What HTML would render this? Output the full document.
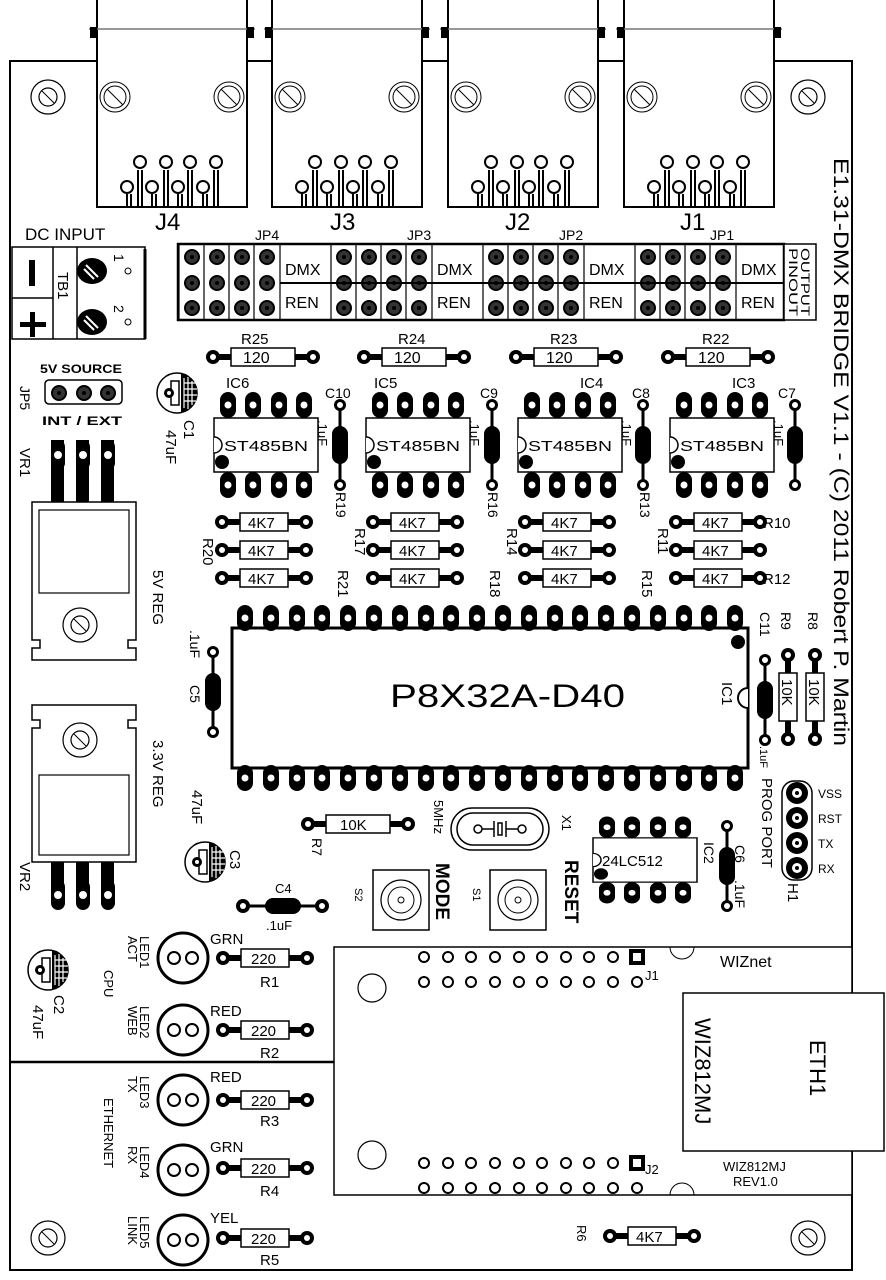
<!DOCTYPE html>
<html><head><meta charset="utf-8"><style>
html,body{margin:0;padding:0;background:#fff;}
svg{display:block;}
text{font-family:"Liberation Sans",sans-serif;fill:#000;}
</style></head><body>
<svg width="886" height="1280" viewBox="0 0 886 1280" xmlns="http://www.w3.org/2000/svg">
<defs>
 <g id="jack">
  <rect x="0" y="-2" width="150" height="209" fill="#fff" stroke="#000" stroke-width="2"/>
  <line x1="-8" y1="29" x2="158" y2="29" stroke="#777" stroke-width="1.5"/>
  <rect x="-7" y="27" width="7" height="11" fill="#000"/><rect x="150" y="27" width="7" height="11" fill="#000"/>
  <circle cx="18" cy="97" r="15" fill="none" stroke="#000" stroke-width="1"/><circle cx="18" cy="97" r="11" fill="none" stroke="#000" stroke-width="1"/><line x1="10" y1="89" x2="26" y2="105" stroke="#000"/>
  <circle cx="132" cy="97" r="15" fill="none" stroke="#000" stroke-width="1"/><circle cx="132" cy="97" r="11" fill="none" stroke="#000" stroke-width="1"/><line x1="124" y1="89" x2="140" y2="105" stroke="#000"/>
  <g fill="none" stroke="#000" stroke-width="2">
   <path d="M30 207V194M34 207V194M55 207V194M59 207V194M81 207V194M85 207V194M106 207V194M110 207V194"/>
   <path d="M41 207V170M45 207V170M67 207V170M71 207V170M91 207V170M95 207V170M117 207V170M121 207V170"/>
   <circle cx="43" cy="162" r="6" fill="#fff"/><circle cx="69" cy="162" r="6" fill="#fff"/><circle cx="93" cy="162" r="6" fill="#fff"/><circle cx="119" cy="162" r="6" fill="#fff"/>
   <circle cx="30" cy="187" r="6" fill="#fff"/><circle cx="55" cy="187" r="6" fill="#fff"/><circle cx="81" cy="187" r="6" fill="#fff"/><circle cx="106" cy="187" r="6" fill="#fff"/>
  </g>
 </g>
 <g id="mh"><circle r="17" fill="none" stroke="#000" stroke-width="1.2"/><circle r="9" fill="none" stroke="#000" stroke-width="1.2"/><line x1="-6" y1="-6" x2="6" y2="6" stroke="#000"/></g>
 <g id="pad"><circle r="7" fill="#000"/><circle r="3" fill="#fff"/></g>
 <g id="hp"><circle r="8" fill="#000"/><circle r="6" fill="#333"/><circle r="2" fill="#000"/></g>
 <g id="pinv"><rect x="-8" y="-13" width="16" height="26" rx="8" fill="#000"/><circle r="3.5" fill="#fff"/></g>
 <g id="r120">
  <line x1="-50" y1="0" x2="50" y2="0" stroke="#000" stroke-width="6"/>
  <use href="#pad" x="-50"/><use href="#pad" x="50"/>
  <rect x="-32" y="-9" width="64" height="18" fill="#fff" stroke="#000" stroke-width="1.5"/>
 </g>
 <g id="r47">
  <line x1="-42" y1="0" x2="42" y2="0" stroke="#000" stroke-width="6"/>
  <use href="#pad" x="-42"/><use href="#pad" x="42"/>
  <rect x="-24" y="-9" width="48" height="18" fill="#fff" stroke="#000" stroke-width="1.5"/>
 </g>
 <g id="capv">
  <line x1="0" y1="-40" x2="0" y2="40" stroke="#000" stroke-width="3"/>
  <circle cy="-40" r="6" fill="#000"/><circle cy="-40" r="3" fill="#fff"/>
  <circle cy="40" r="6" fill="#000"/><circle cy="40" r="3" fill="#fff"/>
  <rect x="-8" y="-19" width="16" height="38" rx="8" fill="#000"/>
 </g>
 <g id="ic8">
  <rect x="-52" y="-27" width="104" height="54" fill="#fff" stroke="#000" stroke-width="1.5"/>
  <path d="M-52 -8 A8 8 0 0 1 -52 8" fill="#fff" stroke="#000" stroke-width="1.5"/>
  <circle cx="-44" cy="17" r="7" fill="#000"/>
  <use href="#pinv" x="-38" y="-40"/><use href="#pinv" x="-13" y="-40"/><use href="#pinv" x="13" y="-40"/><use href="#pinv" x="38" y="-40"/>
  <use href="#pinv" x="-38" y="40"/><use href="#pinv" x="-13" y="40"/><use href="#pinv" x="13" y="40"/><use href="#pinv" x="38" y="40"/>
 </g>
 <g id="jpg">
  <use href="#hp" x="0" y="0"/><use href="#hp" x="25" y="0"/><use href="#hp" x="50" y="0"/><use href="#hp" x="75" y="0"/>
  <use href="#hp" x="0" y="26"/><use href="#hp" x="25" y="26"/><use href="#hp" x="50" y="26"/><use href="#hp" x="75" y="26"/>
  <use href="#hp" x="0" y="51"/><use href="#hp" x="25" y="51"/><use href="#hp" x="50" y="51"/><use href="#hp" x="75" y="51"/>
  <path d="M-13 -13V64M12 -13V64M37 -13V64M62 -13V64M88 -13V64" stroke="#000" stroke-width="1.2" fill="none"/>
 </g>
 <g id="led"><circle r="25" fill="#fff" stroke="#000" stroke-width="3"/><circle cx="-9" r="6" fill="none" stroke="#000" stroke-width="2"/><circle cx="9" r="6" fill="none" stroke="#000" stroke-width="2"/></g>
 <g id="ecap"><circle r="20" fill="#fff" stroke="#000" stroke-width="1.5"/><path d="M4 -19.5A20 20 0 0 1 4 19.5Z" fill="#000"/><path d="M7 -15V15M11 -16V16M15 -12V12M7 -10H19M7 -4H20M7 2H20M7 8H19" stroke="#fff" stroke-width="1.2"/><rect x="-6" y="-12" width="8" height="24" fill="none" stroke="#000" stroke-width="1.5"/><circle cx="-8" cy="0" r="5" fill="#000"/><circle cx="-8" r="2" fill="#fff"/></g>
</defs>

<rect x="10" y="61" width="842" height="1209" fill="none" stroke="#000" stroke-width="2"/>

<use href="#jack" x="97" y="0"/><use href="#jack" x="272" y="0"/><use href="#jack" x="448" y="0"/><use href="#jack" x="624" y="0"/>
<text x="155" y="230" font-size="24">J4</text><text x="330" y="230" font-size="24">J3</text><text x="505" y="230" font-size="24">J2</text><text x="680" y="230" font-size="24">J1</text>

<use href="#mh" x="48" y="97"/><use href="#mh" x="808" y="97"/><use href="#mh" x="48" y="1238"/><use href="#mh" x="808" y="1238"/>

<text transform="translate(834,158) rotate(90)" font-size="21" textLength="588" lengthAdjust="spacingAndGlyphs">E1.31-DMX BRIDGE V1.1 - (C) 2011 Robert P. Martin</text>

<rect x="178" y="244" width="606" height="76" fill="#fff" stroke="#000" stroke-width="2.5"/>
<rect x="784" y="244" width="32" height="76" fill="#fff" stroke="#000" stroke-width="1.5"/>
<text transform="translate(801,248) rotate(90)" font-size="12" textLength="68" lengthAdjust="spacingAndGlyphs">OUTPUT</text>
<text transform="translate(789,248) rotate(90)" font-size="12" textLength="68" lengthAdjust="spacingAndGlyphs">PINOUT</text>
<g>
 <use href="#jpg" x="192" y="257"/><use href="#jpg" x="344" y="257"/><use href="#jpg" x="496" y="257"/><use href="#jpg" x="648" y="257"/>
 <line x1="280" y1="283" x2="784" y2="283" stroke="#000" stroke-width="2"/>
 <text x="285" y="275" font-size="16">DMX</text><text x="285" y="308" font-size="16">REN</text>
 <text x="437" y="275" font-size="16">DMX</text><text x="437" y="308" font-size="16">REN</text>
 <text x="589" y="275" font-size="16">DMX</text><text x="589" y="308" font-size="16">REN</text>
 <text x="741" y="275" font-size="16">DMX</text><text x="741" y="308" font-size="16">REN</text>
</g>
<text x="255" y="240" font-size="14">JP4</text><text x="407" y="240" font-size="14">JP3</text><text x="559" y="240" font-size="14">JP2</text><text x="710" y="240" font-size="14">JP1</text>

<text x="25" y="240" font-size="17">DC INPUT</text>
<rect x="12" y="247" width="133" height="92" fill="#fff" stroke="#000" stroke-width="1.5"/>
<line x1="145" y1="249" x2="145" y2="339" stroke="#000" stroke-width="3"/>
<line x1="12" y1="298" x2="53" y2="298" stroke="#000" stroke-width="1.5"/>
<line x1="53" y1="247" x2="53" y2="339" stroke="#000" stroke-width="1.5"/>
<line x1="77" y1="247" x2="77" y2="339" stroke="#000" stroke-width="1.5"/>
<rect x="29" y="260" width="6" height="26" fill="#000"/>
<rect x="20" y="322" width="26" height="5" fill="#000"/><rect x="30" y="312" width="5" height="25" fill="#000"/>
<text transform="translate(58,272) rotate(90)" font-size="15">TB1</text>
<ellipse cx="92" cy="271" rx="15" ry="13" fill="#000"/><line x1="86" y1="265" x2="98" y2="277" stroke="#fff" stroke-width="2"/><line x1="84" y1="269" x2="94" y2="279" stroke="#fff" stroke-width="2"/>
<ellipse cx="92" cy="322" rx="15" ry="13" fill="#000"/><line x1="86" y1="316" x2="98" y2="328" stroke="#fff" stroke-width="2"/><line x1="84" y1="320" x2="94" y2="330" stroke="#fff" stroke-width="2"/>
<text transform="translate(114,254) rotate(90)" font-size="14">1</text><circle cx="128" cy="271" r="3" fill="none" stroke="#000"/>
<text transform="translate(114,305) rotate(90)" font-size="14">2</text><circle cx="128" cy="322" r="3" fill="none" stroke="#000"/>

<text x="40" y="373" font-size="12" font-weight="bold" textLength="82" lengthAdjust="spacingAndGlyphs">5V SOURCE</text>
<rect x="45" y="380" width="77" height="24" rx="4" fill="#fff" stroke="#000" stroke-width="1.5"/>
<use href="#hp" x="59" y="393"/><use href="#hp" x="84" y="393"/><use href="#hp" x="108" y="393"/>
<text x="42" y="425" font-size="12" font-weight="bold" textLength="80" lengthAdjust="spacingAndGlyphs">INT / EXT</text>
<text transform="translate(20,386) rotate(90)" font-size="14">JP5</text>

<text transform="translate(20,448) rotate(90)" font-size="15">VR1</text>
<g fill="#000"><rect x="51" y="440" width="13" height="62"/><rect x="76" y="440" width="13" height="62"/><rect x="101" y="440" width="13" height="62"/>
<rect x="51" y="440" width="14" height="30" rx="7"/><rect x="76" y="440" width="14" height="30" rx="7"/><rect x="101" y="440" width="14" height="30" rx="7"/></g>
<circle cx="58" cy="455" r="4" fill="#fff"/><circle cx="83" cy="455" r="4" fill="#fff"/><circle cx="108" cy="455" r="4" fill="#fff"/>
<path d="M32 502H136V640H128V648H136V660H32V648H40V640H32Z" fill="#fff" stroke="#000" stroke-width="1.5"/>
<rect x="39" y="510" width="90" height="83" fill="none" stroke="#000" stroke-width="1.2"/>
<use href="#mh" x="80" y="625"/>
<text transform="translate(153,570) rotate(90)" font-size="15">5V REG</text>

<path d="M32 705H136V720H128V728H136V862H32V728H40V720H32Z" fill="#fff" stroke="#000" stroke-width="1.5"/>
<rect x="39" y="775" width="90" height="80" fill="none" stroke="#000" stroke-width="1.2"/>
<use href="#mh" x="80" y="740"/>
<g fill="#000"><rect x="51" y="862" width="13" height="40"/><rect x="76" y="862" width="13" height="40"/><rect x="101" y="862" width="13" height="40"/>
<rect x="51" y="880" width="14" height="30" rx="7"/><rect x="76" y="880" width="14" height="30" rx="7"/><rect x="101" y="880" width="14" height="30" rx="7"/></g>
<circle cx="58" cy="895" r="4" fill="#fff"/><circle cx="83" cy="895" r="4" fill="#fff"/><circle cx="108" cy="895" r="4" fill="#fff"/>
<text transform="translate(20,862) rotate(90)" font-size="15">VR2</text>
<text transform="translate(153,740) rotate(90)" font-size="15">3.3V REG</text>

<use href="#ecap" x="177" y="393"/>
<text transform="translate(184,420) rotate(90)" font-size="15">C1</text><text transform="translate(166,430) rotate(90)" font-size="15">47uF</text>
<use href="#ecap" x="205" y="862"/>
<text transform="translate(230,850) rotate(90)" font-size="15">C3</text><text transform="translate(192,790) rotate(90)" font-size="15">47uF</text>
<use href="#ecap" x="48" y="970"/>
<text transform="translate(54,995) rotate(90)" font-size="15">C2</text><text transform="translate(33,1005) rotate(90)" font-size="15">47uF</text>

<use href="#r120" x="263" y="357"/><text x="243" y="363" font-size="16">120</text><text x="241" y="344" font-size="15">R25</text>
<use href="#r120" x="414" y="357"/><text x="394" y="363" font-size="16">120</text><text x="398" y="344" font-size="15">R24</text>
<use href="#r120" x="566" y="357"/><text x="546" y="363" font-size="16">120</text><text x="550" y="344" font-size="15">R23</text>
<use href="#r120" x="718" y="357"/><text x="698" y="363" font-size="16">120</text><text x="702" y="344" font-size="15">R22</text>

<use href="#ic8" x="266" y="445"/><text x="224" y="451" font-size="15" textLength="84" lengthAdjust="spacingAndGlyphs">ST485BN</text><text x="226" y="388" font-size="15">IC6</text>
<use href="#ic8" x="418" y="445"/><text x="376" y="451" font-size="15" textLength="84" lengthAdjust="spacingAndGlyphs">ST485BN</text><text x="374" y="388" font-size="15">IC5</text>
<use href="#ic8" x="570" y="445"/><text x="528" y="451" font-size="15" textLength="84" lengthAdjust="spacingAndGlyphs">ST485BN</text><text x="580" y="388" font-size="15">IC4</text>
<use href="#ic8" x="722" y="445"/><text x="680" y="451" font-size="15" textLength="84" lengthAdjust="spacingAndGlyphs">ST485BN</text><text x="732" y="388" font-size="15">IC3</text>
<use href="#capv" x="340" y="445"/><text x="325" y="398" font-size="14">C10</text>
<use href="#capv" x="492" y="445"/><text x="480" y="398" font-size="14">C9</text>
<use href="#capv" x="643" y="445"/><text x="632" y="398" font-size="14">C8</text>
<use href="#capv" x="795" y="445"/><text x="778" y="398" font-size="14">C7</text>
<g font-size="13"><text transform="translate(318,420) rotate(90)">.1uF</text><text transform="translate(470,420) rotate(90)">.1uF</text><text transform="translate(622,420) rotate(90)">.1uF</text><text transform="translate(774,420) rotate(90)">.1uF</text></g>
<g font-size="14"><text transform="translate(336,492) rotate(90)">R19</text><text transform="translate(488,492) rotate(90)">R16</text><text transform="translate(640,492) rotate(90)">R13</text></g>

<g font-size="15">
<use href="#r47" x="264" y="522"/><text x="248" y="528">4K7</text>
<use href="#r47" x="264" y="550"/><text x="248" y="556">4K7</text>
<use href="#r47" x="264" y="578"/><text x="248" y="584">4K7</text>
<use href="#r47" x="415" y="522"/><text x="399" y="528">4K7</text>
<use href="#r47" x="415" y="550"/><text x="399" y="556">4K7</text>
<use href="#r47" x="415" y="578"/><text x="399" y="584">4K7</text>
<use href="#r47" x="567" y="522"/><text x="551" y="528">4K7</text>
<use href="#r47" x="567" y="550"/><text x="551" y="556">4K7</text>
<use href="#r47" x="567" y="578"/><text x="551" y="584">4K7</text>
<use href="#r47" x="718" y="522"/><text x="702" y="528">4K7</text>
<use href="#r47" x="718" y="550"/><text x="702" y="556">4K7</text>
<use href="#r47" x="718" y="578"/><text x="702" y="584">4K7</text>
<text x="763" y="528">R10</text><text x="763" y="584">R12</text>
<text transform="translate(203,538) rotate(90)">R20</text>
<text transform="translate(338,570) rotate(90)">R21</text>
<text transform="translate(355,528) rotate(90)">R17</text>
<text transform="translate(490,570) rotate(90)">R18</text>
<text transform="translate(507,528) rotate(90)">R14</text>
<text transform="translate(642,570) rotate(90)">R15</text>
<text transform="translate(658,528) rotate(90)">R11</text>
</g>

<rect x="232" y="628" width="516" height="140" fill="#fff" stroke="#000" stroke-width="3"/>
<path d="M748 688A10 10 0 0 0 748 708" fill="#fff" stroke="#000" stroke-width="2"/>
<circle cx="738" cy="642" r="7" fill="#000"/>
<g id="ptop">
<use href="#pinv" x="245" y="618"/><use href="#pinv" x="271" y="618"/><use href="#pinv" x="297" y="618"/><use href="#pinv" x="322" y="618"/><use href="#pinv" x="348" y="618"/><use href="#pinv" x="374" y="618"/><use href="#pinv" x="400" y="618"/><use href="#pinv" x="426" y="618"/><use href="#pinv" x="451" y="618"/><use href="#pinv" x="477" y="618"/>
<use href="#pinv" x="503" y="618"/><use href="#pinv" x="529" y="618"/><use href="#pinv" x="555" y="618"/><use href="#pinv" x="580" y="618"/><use href="#pinv" x="606" y="618"/><use href="#pinv" x="632" y="618"/><use href="#pinv" x="658" y="618"/><use href="#pinv" x="684" y="618"/><use href="#pinv" x="709" y="618"/><use href="#pinv" x="735" y="618"/>
</g>
<use href="#ptop" y="160"/>
<text x="390" y="707" font-size="32" textLength="235" lengthAdjust="spacingAndGlyphs">P8X32A-D40</text>
<text transform="translate(722,682) rotate(90)" font-size="15">IC1</text>
<use href="#capv" x="213" y="692"/>
<text transform="translate(190,630) rotate(90)" font-size="14">.1uF</text><text transform="translate(190,685) rotate(90)" font-size="14">C5</text>
<use href="#capv" x="765" y="700"/>
<text transform="translate(760,612) rotate(90)" font-size="14">C11</text><text transform="translate(760,746) rotate(90)" font-size="11">.1uF</text>
<g transform="translate(788,697) rotate(90)"><use href="#r47"/><text x="-18" y="6" font-size="15">10K</text></g>
<g transform="translate(815,697) rotate(90)"><use href="#r47"/><text x="-18" y="6" font-size="15">10K</text></g>
<text transform="translate(781,612) rotate(90)" font-size="14">R9</text><text transform="translate(808,612) rotate(90)" font-size="14">R8</text>

<g><rect x="782" y="781" width="30" height="99" rx="12" fill="#fff" stroke="#000" stroke-width="1.5"/>
<circle cx="797" cy="793" r="11" fill="#000"/><circle cx="797" cy="793" r="5" fill="#fff"/><circle cx="797" cy="793" r="2" fill="#000"/>
<circle cx="797" cy="818" r="11" fill="#000"/><circle cx="797" cy="818" r="5" fill="#fff"/><circle cx="797" cy="818" r="2" fill="#000"/>
<circle cx="797" cy="843" r="11" fill="#000"/><circle cx="797" cy="843" r="5" fill="#fff"/><circle cx="797" cy="843" r="2" fill="#000"/>
<circle cx="797" cy="868" r="11" fill="#000"/><circle cx="797" cy="868" r="5" fill="#fff"/><circle cx="797" cy="868" r="2" fill="#000"/></g>
<g font-size="12"><text x="818" y="798">VSS</text><text x="818" y="823">RST</text><text x="818" y="848">TX</text><text x="818" y="873">RX</text></g>
<text transform="translate(762,778) rotate(90)" font-size="15">PROG PORT</text>
<text transform="translate(788,883) rotate(90)" font-size="15">H1</text>

<use href="#r120" x="358" y="824"/><text x="340" y="830" font-size="15">10K</text>
<text transform="translate(312,838) rotate(90)" font-size="14">R7</text>
<text transform="translate(434,800) rotate(90)" font-size="13">5MHz</text>
<rect x="451" y="808" width="98" height="42" rx="21" fill="#fff" stroke="#000" stroke-width="1.5"/>
<rect x="457" y="813" width="86" height="32" rx="16" fill="none" stroke="#000" stroke-width="1.5"/>
<circle cx="478" cy="829" r="4" fill="none" stroke="#000" stroke-width="1.5"/><circle cx="522" cy="829" r="4" fill="none" stroke="#000" stroke-width="1.5"/>
<path d="M482 829H494M506 829H518M494 821V837M506 821V837M498 823H502V835H498Z" stroke="#000" stroke-width="1.5" fill="none"/>
<text transform="translate(562,815) rotate(90)" font-size="13">X1</text>

<g transform="translate(645,860)"><use href="#ic8" transform="scale(1,0.82)"/></g>
<text x="602" y="866" font-size="15">24LC512</text>
<text transform="translate(704,842) rotate(90)" font-size="14">IC2</text>
<use href="#capv" x="727" y="866"/>
<text transform="translate(735,845) rotate(90)" font-size="14">C6</text><text transform="translate(735,880) rotate(90)" font-size="14">.1uF</text>

<line x1="243" y1="906" x2="322" y2="906" stroke="#000" stroke-width="3"/>
<use href="#pad" x="243" y="906"/><use href="#pad" x="322" y="906"/>
<rect x="265" y="898" width="36" height="16" rx="8" fill="#000"/>
<text x="275" y="893" font-size="13">C4</text><text x="266" y="930" font-size="13">.1uF</text>

<rect x="373" y="870" width="56" height="60" fill="#fff" stroke="#000" stroke-width="1.5"/>
<circle cx="401" cy="900" r="20" fill="none" stroke="#000" stroke-width="1.2"/><circle cx="401" cy="900" r="13" fill="none" stroke="#000"/><circle cx="401" cy="900" r="3" fill="none" stroke="#000"/>
<text transform="translate(355,888) rotate(90)" font-size="11">S2</text>
<text transform="translate(436,863) rotate(90)" font-size="19" font-weight="bold">MODE</text>
<rect x="490" y="870" width="56" height="60" fill="#fff" stroke="#000" stroke-width="1.5"/>
<circle cx="518" cy="900" r="20" fill="none" stroke="#000" stroke-width="1.2"/><circle cx="518" cy="900" r="13" fill="none" stroke="#000"/><circle cx="518" cy="900" r="3" fill="none" stroke="#000"/>
<text transform="translate(473,888) rotate(90)" font-size="11">S1</text>
<text transform="translate(565,860) rotate(90)" font-size="19" font-weight="bold">RESET</text>

<line x1="10" y1="1062" x2="334" y2="1062" stroke="#000" stroke-width="2.5"/>
<use href="#led" x="183" y="958"/><use href="#led" x="183" y="1030"/><use href="#led" x="183" y="1100"/><use href="#led" x="183" y="1170"/><use href="#led" x="183" y="1240"/>
<g font-size="15">
<use href="#r47" x="265" y="958"/><text x="251" y="964">220</text><text x="260" y="987">R1</text><text x="210" y="944">GRN</text>
<use href="#r47" x="265" y="1030"/><text x="251" y="1036">220</text><text x="260" y="1058">R2</text><text x="210" y="1016">RED</text>
<use href="#r47" x="265" y="1100"/><text x="251" y="1106">220</text><text x="260" y="1126">R3</text><text x="210" y="1082">RED</text>
<use href="#r47" x="265" y="1168"/><text x="251" y="1174">220</text><text x="260" y="1196">R4</text><text x="210" y="1152">GRN</text>
<use href="#r47" x="265" y="1238"/><text x="251" y="1244">220</text><text x="260" y="1265">R5</text><text x="210" y="1223">YEL</text>
</g>
<g font-size="13">
<text transform="translate(140,936) rotate(90)">LED1</text><text transform="translate(128,936) rotate(90)">ACT</text>
<text transform="translate(140,1006) rotate(90)">LED2</text><text transform="translate(128,1006) rotate(90)">WEB</text>
<text transform="translate(140,1076) rotate(90)">LED3</text><text transform="translate(128,1076) rotate(90)">TX</text>
<text transform="translate(140,1146) rotate(90)">LED4</text><text transform="translate(128,1146) rotate(90)">RX</text>
<text transform="translate(140,1216) rotate(90)">LED5</text><text transform="translate(128,1216) rotate(90)">LINK</text>
<text transform="translate(104,970) rotate(90)">CPU</text>
<text transform="translate(104,1098) rotate(90)">ETHERNET</text>
</g>

<rect x="334" y="947" width="518" height="248" fill="#fff" stroke="#000" stroke-width="1.5"/>
<circle cx="372" cy="988" r="14" fill="none" stroke="#000" stroke-width="1.2"/>
<circle cx="372" cy="1155" r="14" fill="none" stroke="#000" stroke-width="1.2"/>
<path d="M670 947A12 12 0 0 0 694 947" fill="none" stroke="#000"/>
<path d="M670 1195A12 12 0 0 1 694 1195" fill="none" stroke="#000"/>
<g id="prow" fill="none" stroke="#000" stroke-width="2">
<circle cx="424" cy="957" r="5"/><circle cx="448" cy="957" r="5"/><circle cx="471" cy="957" r="5"/><circle cx="495" cy="957" r="5"/><circle cx="519" cy="957" r="5"/><circle cx="542" cy="957" r="5"/><circle cx="566" cy="957" r="5"/><circle cx="589" cy="957" r="5"/><circle cx="613" cy="957" r="5"/>
<circle cx="424" cy="982" r="5"/><circle cx="448" cy="982" r="5"/><circle cx="471" cy="982" r="5"/><circle cx="495" cy="982" r="5"/><circle cx="519" cy="982" r="5"/><circle cx="542" cy="982" r="5"/><circle cx="566" cy="982" r="5"/><circle cx="589" cy="982" r="5"/><circle cx="613" cy="982" r="5"/><circle cx="637" cy="982" r="5"/>
<rect x="631" y="951" width="12" height="12" stroke-width="4"/>
</g>
<use href="#prow" y="206"/>
<text x="645" y="980" font-size="13">J1</text><text x="645" y="1174" font-size="13">J2</text>
<text x="720" y="967" font-size="16">WIZnet</text>
<rect x="683" y="993" width="201" height="158" fill="#fff" stroke="#000" stroke-width="1.5"/>
<text transform="translate(695,1018) rotate(90)" font-size="22">WIZ812MJ</text>
<text transform="translate(810,1040) rotate(90)" font-size="22">ETH1</text>
<text x="723" y="1171" font-size="13">WIZ812MJ</text><text x="733" y="1186" font-size="13">REV1.0</text>

<use href="#r47" x="652" y="1236"/><text x="636" y="1242" font-size="15">4K7</text>
<text transform="translate(577,1225) rotate(90)" font-size="13">R6</text>
</svg>
</body></html>
